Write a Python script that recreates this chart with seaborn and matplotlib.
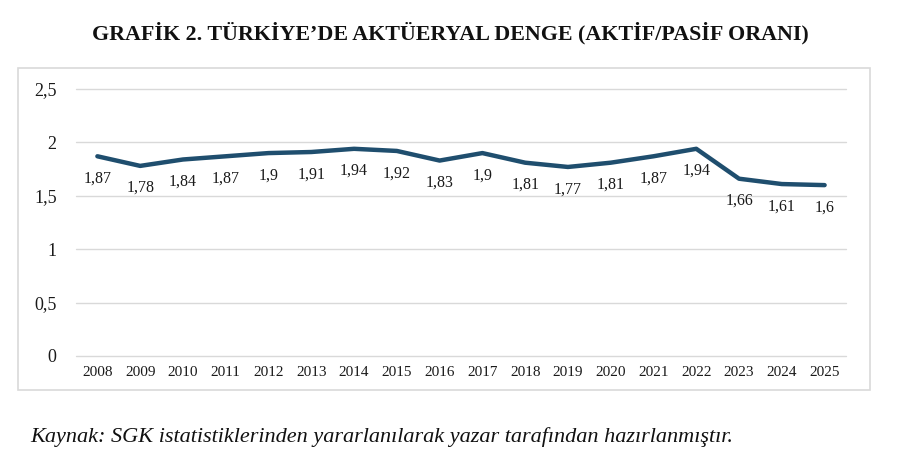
import matplotlib
matplotlib.use("Agg")
import matplotlib.pyplot as plt
import seaborn as sns
import pandas as pd
from matplotlib.patches import Rectangle
from matplotlib.ticker import FuncFormatter, MultipleLocator

years = ["2008", "2009", "2010", "2011", "2012", "2013", "2014", "2015", "2016",
         "2017", "2018", "2019", "2020", "2021", "2022", "2023", "2024", "2025"]
ratios = [1.87, 1.78, 1.84, 1.87, 1.90, 1.91, 1.94, 1.92, 1.83,
          1.90, 1.81, 1.77, 1.81, 1.87, 1.94, 1.66, 1.61, 1.60]
title = "GRAFİK 2. TÜRKİYE’DE AKTÜERYAL DENGE (AKTİF/PASİF ORANI)"
source = "Kaynak: SGK istatistiklerinden yararlanılarak yazar tarafından hazırlanmıştır."

sns.set_theme(style="white")
plt.rcParams['font.family'] = ['Liberation Serif', 'DejaVu Serif']

def fmt(v):
    s = f"{v:.2f}".rstrip("0").rstrip(".")
    return s.replace(".", ",")

df = pd.DataFrame({"Yıl": years, "Oran": ratios})

fig = plt.figure(figsize=(9, 4.76), dpi=100)
ax = fig.add_axes([76/900, 1-356/476, (846-76)/900, (356-89)/476])

# chart frame
fig.patches.append(Rectangle((18/900, 1-390/476), (870-18)/900, (390-68)/476,
                             transform=fig.transFigure, fill=False,
                             edgecolor="#d9d9d9", linewidth=1.2, zorder=0))

sns.lineplot(data=df, x="Yıl", y="Oran", ax=ax, color="#1F4E6E", linewidth=3.2,
             sort=False)

ax.set_ylim(0, 2.5)
ax.set_xlim(-0.5, len(years) - 0.5)
ax.yaxis.set_major_locator(MultipleLocator(0.5))
ax.yaxis.set_major_formatter(FuncFormatter(lambda v, p: fmt(v)))
ax.grid(axis="y", color="#d9d9d9", linewidth=1)
ax.grid(axis="x", visible=False)
for gl in ax.get_ygridlines():
    gl.set_clip_on(False)
for s in ax.spines.values():
    s.set_visible(False)
ax.tick_params(axis="both", length=0, colors="#1a1a1a")
ax.tick_params(axis="y", pad=14, labelsize=13)
ax.tick_params(axis="x", pad=7, labelsize=11)
ax.set_xlabel("")
ax.set_ylabel("")

for i, v in enumerate(ratios):
    ax.annotate(fmt(v), (i, v), xytext=(0, -16), textcoords="offset points",
                ha="center", va="center", fontsize=11.5, color="#1a1a1a")

fig.text(0.5, 1-33/476, title, ha="center", va="center", fontsize=15.8,
         fontweight="bold", color="#111111")
fig.text(30/900, 1-437/476, source, ha="left", va="center", fontsize=16,
         style="italic", color="#111111")

fig.savefig("out.png", dpi=100)
